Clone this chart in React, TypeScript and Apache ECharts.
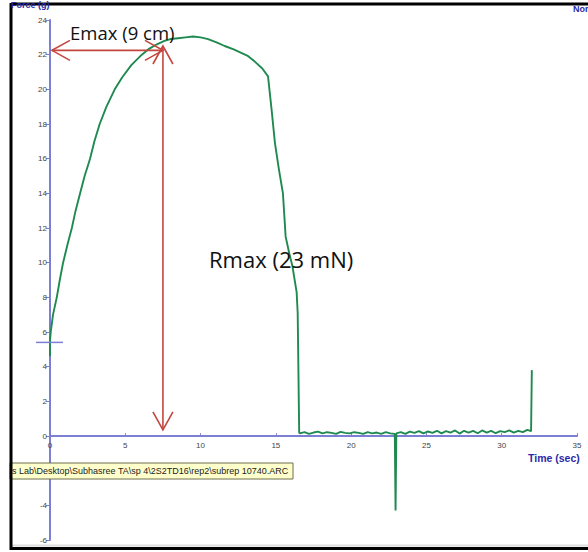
import React, { useEffect, useRef } from "react";
import * as echarts from "echarts";

const timeSec = [
  0, 0, 0.05, 0.2, 0.45, 0.65, 0.87, 1.15, 1.45, 1.7, 2.0, 2.3, 2.66, 2.95, 3.3, 3.75, 4.3, 4.8, 5.4, 6.1,
  6.6, 7.1, 7.6, 8.0, 8.5, 9.0, 9.5, 10.0, 10.5, 11.1, 11.6, 12.2, 12.7, 13.1, 13.6, 14.1, 14.48, 14.72, 14.94,
  15.2, 15.47, 15.65, 15.9, 16.1, 16.38, 16.45, 16.55,
  16.6, 16.9, 17.2, 17.5, 17.8, 18.1, 18.4, 18.7, 19.0, 19.3, 19.6, 19.9, 20.2, 20.5, 20.8, 21.1, 21.4, 21.7,
  22.0, 22.3, 22.6, 22.9, 22.95, 23.0, 23.3, 23.6, 23.9, 24.2, 24.5, 24.8, 25.1, 25.4, 25.7, 26.0, 26.3, 26.6,
  26.9, 27.2, 27.5, 27.8, 28.1, 28.4, 28.7, 29.0, 29.3, 29.6, 29.9, 30.2, 30.5, 30.8, 31.1, 31.4, 31.7, 31.95,
  32.0,
];
const forceG = [
  4.6, 5.5, 6.0, 7.0, 8.0, 9.0, 10.0, 11.0, 12.0, 13.0, 14.0, 15.0, 16.0, 17.0, 18.0, 19.0, 20.0, 20.7, 21.4, 22.0,
  22.35, 22.6, 22.8, 22.9, 22.95, 23.0, 23.05, 23.0, 22.9, 22.7, 22.5, 22.3, 22.1, 21.95, 21.6, 21.2, 20.75, 18.8, 16.9,
  15.4, 14.0, 11.5, 10.5, 9.8, 8.3, 7.1, 0.2,
  0.15, 0.22, 0.12, 0.2, 0.25, 0.15, 0.22, 0.18, 0.12, 0.24, 0.18, 0.15, 0.22, 0.18, 0.12, 0.22, 0.15, 0.2,
  0.12, 0.22, 0.15, 0.12, -4.3, 0.15, 0.22, 0.12, 0.25, 0.18, 0.28, 0.15, 0.26, 0.18, 0.3, 0.15, 0.28, 0.2,
  0.32, 0.14, 0.3, 0.2, 0.3, 0.16, 0.32, 0.2, 0.3, 0.16, 0.28, 0.22, 0.32, 0.2, 0.3, 0.22, 0.35, 0.28,
  3.8,
];

// annotation anchors (data coordinates)
const emaxLine = { y: 22.25, from: 0.13, to: 7.5 };
const rmaxLine = { x: 7.5, from: 22.5, to: 0.35 };
const cursorForce = 5.4;

const xTicks = { min: 0, max: 35, interval: 5 };
const yTicks = { min: -6, max: 24, interval: 2 };
const hiddenYLabels = [-2]; // covered by the file-path box in the original

const RED = "#c4463f";
const AXIS = "#7c7fd4";
const BLUE_TXT = "#2a2aa8";

export default function App() {
  const ref = useRef<HTMLDivElement>(null);
  useEffect(() => {
    if (!ref.current) return;
    const chart = echarts.init(ref.current, undefined, { renderer: "svg" });
    const data = timeSec.map((t, i) => [t, forceG[i]]);
    chart.setOption({
      animation: false,
      backgroundColor: "#ffffff",
      grid: { left: 50, right: 11, top: 20, bottom: 12, containLabel: false },
      xAxis: {
        type: "value",
        min: xTicks.min,
        max: xTicks.max,
        interval: xTicks.interval,
        axisLine: { onZero: false, lineStyle: { color: AXIS, width: 2 } },
        axisTick: { show: true, inside: true, length: 3, lineStyle: { color: AXIS } },
        axisLabel: { color: "#444", fontSize: 8, margin: 5, fontFamily: "Liberation Sans" },
        splitLine: { show: false },
      },
      yAxis: {
        type: "value",
        min: yTicks.min,
        max: yTicks.max,
        interval: yTicks.interval,
        axisLine: { show: true, onZero: false, lineStyle: { color: AXIS, width: 2 } },
        axisTick: { show: true, length: 4, lineStyle: { color: AXIS } },
        axisLabel: {
          color: "#444",
          fontSize: 8,
          margin: 3,
          fontFamily: "Liberation Sans",
          formatter: (v: number) => (hiddenYLabels.includes(v) ? "" : String(v)),
        },
        splitLine: { show: false },
      },
      series: [
        {
          type: "line",
          data,
          showSymbol: false,
          symbol: "none",
          lineStyle: { color: "#1f8a50", width: 1.9 },
          z: 3,
        },
      ],
    });

    const p = (x: number, y: number) => chart.convertToPixel({ xAxisIndex: 0, yAxisIndex: 0 }, [x, y]) as number[];
    const zeroY = p(0, 0)[1];
    const bottomY = p(0, yTicks.min)[1];
    chart.setOption({ xAxis: { offset: -(bottomY - zeroY) } });

    const hL = p(emaxLine.from, emaxLine.y);
    const hR = p(emaxLine.to, emaxLine.y);
    const vT = p(rmaxLine.x, rmaxLine.from);
    const vB = p(rmaxLine.x, rmaxLine.to);
    const cur = p(0, cursorForce);
    const ah = 18, aw = 10;
    const redLine = { stroke: RED, lineWidth: 1.6, fill: null };

    chart.setOption({
      graphic: [
        // frame
        { type: "line", shape: { x1: 11, y1: 4, x2: 588, y2: 4 }, style: { stroke: "#000", lineWidth: 3 }, z: 50 },
        { type: "line", shape: { x1: 11, y1: 3, x2: 11, y2: 550 }, style: { stroke: "#000", lineWidth: 3 }, z: 50 },
        { type: "line", shape: { x1: 10, y1: 548.5, x2: 588, y2: 548.5 }, style: { stroke: "#000", lineWidth: 3 }, z: 50 },
        { type: "line", shape: { x1: 12, y1: 545.5, x2: 588, y2: 545.5 }, style: { stroke: "#ddd", lineWidth: 2 }, z: 49 },
        // titles
        { type: "text", x: 11, y: 0, style: { text: "Force (g)", fill: BLUE_TXT, font: "bold 9px 'Liberation Sans'" }, z: 55 },
        { type: "text", x: 573, y: 4, style: { text: "Nor", fill: BLUE_TXT, font: "bold 9px 'Liberation Sans'" }, z: 55 },
        { type: "text", x: 528, y: 452, style: { text: "Time (sec)", fill: BLUE_TXT, font: "bold 10.5px 'Liberation Sans'" }, z: 40 },
        // cursor
        { type: "line", shape: { x1: cur[0] - 14, y1: cur[1], x2: cur[0] + 13, y2: cur[1] }, style: { stroke: AXIS, lineWidth: 1.5 }, z: 40 },
        // file path box
        { type: "rect", shape: { x: 10, y: 463, width: 283, height: 16 }, style: { fill: "#ffffcc", stroke: "#6e6e50", lineWidth: 1 }, z: 45 },
        { type: "text", x: 12, y: 466, style: { text: "s Lab\\Desktop\\Subhasree TA\\sp 4\\2S2TD16\\rep2\\subrep 10740.ARC", fill: "#222", font: "9px 'Liberation Sans'" }, z: 46 },
        // Emax arrow
        { type: "line", shape: { x1: hL[0], y1: hL[1], x2: hR[0], y2: hR[1] }, style: redLine, z: 60 },
        { type: "polyline", shape: { points: [[hL[0] + ah, hL[1] - aw], [hL[0], hL[1]], [hL[0] + ah, hL[1] + aw]] }, style: redLine, z: 60 },
        { type: "polyline", shape: { points: [[hR[0] - ah, hR[1] - aw], [hR[0], hR[1]], [hR[0] - ah, hR[1] + aw]] }, style: redLine, z: 60 },
        // Rmax arrow
        { type: "line", shape: { x1: vT[0], y1: vT[1], x2: vB[0], y2: vB[1] }, style: redLine, z: 60 },
        { type: "polyline", shape: { points: [[vT[0] - aw, vT[1] + ah], [vT[0], vT[1]], [vT[0] + aw, vT[1] + ah]] }, style: redLine, z: 60 },
        { type: "polyline", shape: { points: [[vB[0] - aw, vB[1] - ah], [vB[0], vB[1]], [vB[0] + aw, vB[1] - ah]] }, style: redLine, z: 60 },
        // texts
        { type: "text", x: 70, y: 23, style: { text: "Emax (9 cm)", fill: "#111", font: "18.5px 'Open Sans'" }, z: 61 },
        { type: "text", x: 209, y: 248, style: { text: "Rmax (23 mN)", fill: "#111", font: "22px 'Open Sans'" }, z: 61 },
      ],
    });
    return () => chart.dispose();
  }, []);
  return <div ref={ref} style={{ position: "fixed", left: 0, top: 0, width: 588, height: 552 }} />;
}
